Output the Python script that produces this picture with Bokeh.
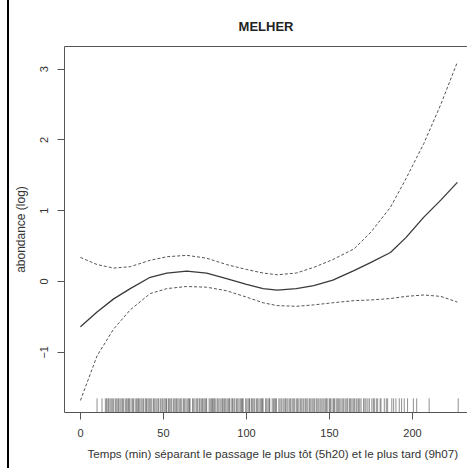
from bokeh.plotting import figure
from bokeh.models import Range1d, FixedTicker, ColumnDataSource, LinearAxis, Title
from bokeh.embed import file_html
from bokeh.resources import INLINE

# ---- data ----
title_text = "MELHER"
x_label = "Temps (min) séparant le passage le plus tôt (5h20) et le plus tard (9h07)"
y_label = "abondance (log)"
x_ticks = [0, 50, 100, 150, 200]
y_ticks = [-1, 0, 1, 2, 3]

time_grid = [0, 10, 20, 30, 42, 52, 64, 76, 88, 100, 110, 118.5, 130, 140.5,
             152, 164.7, 175, 186.7, 196, 206.8, 217, 227]
fit = [-0.64, -0.43, -0.245, -0.10, 0.06, 0.12, 0.146, 0.12, 0.04, -0.04, -0.10,
       -0.12, -0.10, -0.057, 0.02, 0.155, 0.27, 0.41, 0.62, 0.91, 1.15, 1.40]
upper = [0.34, 0.24, 0.19, 0.21, 0.30, 0.35, 0.37, 0.33, 0.24, 0.17, 0.12,
         0.095, 0.12, 0.20, 0.31, 0.46, 0.70, 1.05, 1.45, 1.95, 2.50, 3.10]
lower = [-1.68, -1.05, -0.67, -0.40, -0.17, -0.10, -0.07, -0.08, -0.13, -0.22, -0.30,
         -0.34, -0.35, -0.33, -0.30, -0.27, -0.26, -0.24, -0.21, -0.19, -0.21, -0.29]

rug_times = [10, 13, 15, 16.5, 17, 18.5, 20, 21, 22.5, 23, 24.5, 26, 27, 28.5, 29,
             30.5, 32, 33, 34.5, 35, 36.5, 38, 39, 40, 41.5, 43, 44, 45.5, 47, 48,
             49.5, 51, 52, 53.5, 55, 56, 57.5, 58, 59.5, 61, 62, 63.5, 65, 66, 67.5,
             69, 70, 71.5, 72, 73.5, 75, 76, 77.5, 79, 80, 81.5, 83, 84, 85.5, 86,
             87.5, 89, 90, 91.5, 93, 94, 95.5, 97, 98, 99.5, 101, 102, 103.5, 105,
             106, 107.5, 109, 110, 111.5, 113, 114, 115.5, 117, 118, 119.5, 121, 122,
             123.5, 125, 126, 127.5, 129, 130, 131.5, 133, 134, 135.5, 137, 138,
             139.5, 141, 142, 143.5, 145, 146, 147.5, 149, 150, 151.5, 153, 154,
             155.5, 157, 158, 159.5, 161, 162, 163.5, 165, 166, 167.5, 169, 170.5,
             172, 174, 175.5, 177, 179, 181, 183, 185, 187.5, 190, 192, 195, 197,
             200.5, 202.5, 210, 227.5]
rug_extra = [15.7, 17.8, 19.2, 21.6, 23.8, 25.3, 27.7, 29.6, 31.4, 33.8, 35.7, 37.2,
             39.6, 40.8, 42.3, 44.7, 46.2, 48.6, 50.3, 51.7, 53.1, 54.4, 56.8, 58.7,
             60.2, 62.6, 64.3, 65.7, 68.2, 70.6, 72.8, 74.3, 75.6, 78.2, 79.6, 80.7,
             82.4, 84.7, 86.8, 88.3, 89.6, 91.2, 92.4, 94.7, 96.3, 97.6, 100.2, 101.7,
             103.1, 104.4, 106.7, 108.3, 109.6, 112.2, 113.7, 116.3, 117.6, 120.2,
             122.7, 124.3, 126.6, 128.2, 130.7, 132.4, 134.6, 136.3, 138.7, 140.2,
             142.6, 144.3, 146.7, 148.2, 150.6, 152.4, 154.7, 156.2, 158.6, 160.4,
             162.7, 164.3, 166.6, 168.2, 171.3, 173.1, 176.4, 178.2, 180.5, 184.2,
             188.6, 193.4]

FONT = "Liberation Sans"
TEXT = "#333333"
LINE = "#555555"

p = figure(width=467, height=468, output_backend="svg", toolbar_location=None,
           x_range=Range1d(-9.6, 233.1), y_range=Range1d(-1.85, 3.32),
           min_border_left=64, min_border_right=0, min_border_top=46,
           min_border_bottom=56)
p.border_fill_color = None
p.styles = {"background": "linear-gradient(to right, #ffffff 0px, #ffffff 7px, "
                          "#000000 7px, #000000 9px, #ffffff 9px, #ffffff 100%)"}

xaxis = p.xaxis[0]
yaxis = p.yaxis[0]

p.title.text = title_text
p.title.align = "center"
p.title.text_font = FONT
p.title.text_font_size = "13px"
p.title.text_font_style = "bold"
p.title.text_color = "#222222"
p.title.standoff = 26

p.grid.visible = False
p.background_fill_color = "white"
p.outline_line_color = None

for ax in (xaxis, yaxis):
    ax.axis_line_color = LINE
    ax.major_tick_line_color = LINE
    ax.major_tick_out = 7
    ax.major_tick_in = 0
    ax.minor_tick_line_color = None
    ax.major_label_text_font = FONT
    ax.major_label_text_font_size = "11px"
    ax.major_label_text_color = TEXT

xaxis.ticker = FixedTicker(ticks=x_ticks)
yaxis.ticker = FixedTicker(ticks=y_ticks)
xaxis.major_label_standoff = 9

yaxis.axis_label = y_label
yaxis.axis_label_text_font = FONT
yaxis.axis_label_text_font_size = "12px"
yaxis.axis_label_text_color = TEXT
yaxis.axis_label_text_font_style = "normal"
yaxis.major_label_orientation = "vertical"
yaxis.major_label_standoff = 9
yaxis.axis_label_standoff = 10

# top edge of the box (no ticks, no labels)
top_axis = LinearAxis(ticker=FixedTicker(ticks=[]), axis_line_color=LINE,
                      major_tick_line_color=None, minor_tick_line_color=None,
                      major_label_text_color=None, major_tick_out=0,
                      major_label_standoff=0)
p.add_layout(top_axis, "above")

xlab = Title(text=x_label, align="left", offset=23, text_font=FONT,
             text_font_size="11.6px", text_font_style="normal", text_color=TEXT,
             vertical_align="bottom", standoff=10)
p.add_layout(xlab, "below")

src = ColumnDataSource(dict(t=time_grid, fit=fit, up=upper, lo=lower))
p.line("t", "fit", source=src, line_color="#3a3a3a", line_width=1.3)
p.line("t", "up", source=src, line_color="#555555", line_width=1, line_dash="3 2")
p.line("t", "lo", source=src, line_color="#555555", line_width=1, line_dash="3 2")

all_rug = rug_times + rug_extra
rug_src = ColumnDataSource(dict(x=all_rug, y0=[-1.85] * len(all_rug),
                                y1=[-1.65] * len(all_rug)))
p.segment(x0="x", x1="x", y0="y0", y1="y1", source=rug_src,
          line_color="#444444", line_width=1, line_alpha=0.6)

open("out.html", "w").write(file_html(p, INLINE))
